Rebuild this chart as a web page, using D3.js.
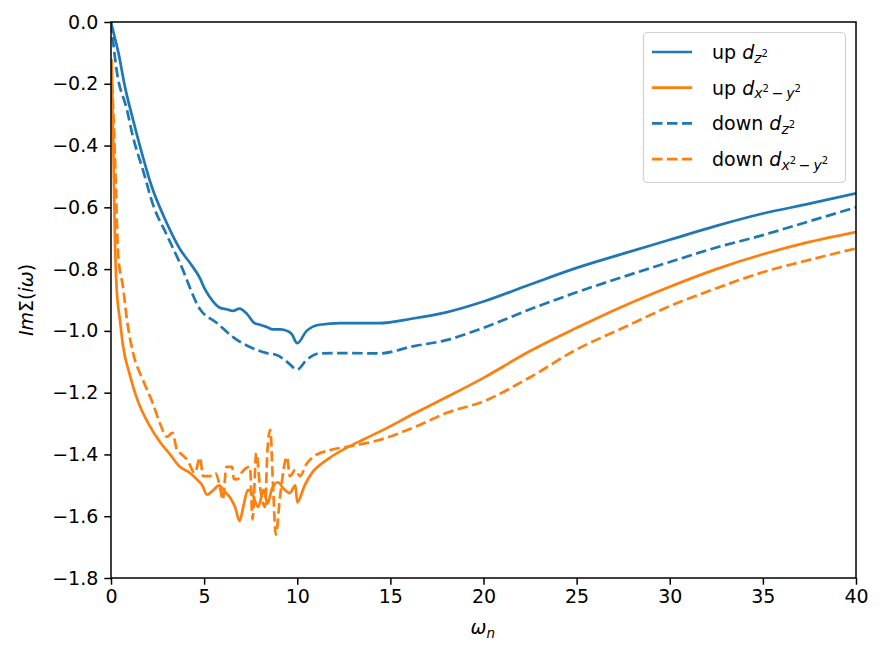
<!DOCTYPE html>
<html>
<head>
<meta charset="utf-8">
<script src="https://cdn.jsdelivr.net/npm/d3@7"></script>
<style>
  body { margin: 0; background: #fff; }
  text { font-family: "DejaVu Sans", sans-serif; }
</style>
</head>
<body>
<script>
// data: omega_n and Im Sigma(i omega)
var upZ2W = [0, 0.1, 0.4, 0.75, 1.2, 1.66, 2.2, 2.8, 3.3, 3.7, 4.3, 4.78, 5.0, 5.3, 5.85, 6.2, 6.55, 6.9, 7.3, 7.7, 8.0, 8.35, 8.7, 9.1, 9.45, 9.7, 10, 10.5, 11.2, 12.3, 14.4, 16.2, 18, 20, 22.5, 25, 27.5, 30, 32.5, 35, 37.5, 40];
var upZ2 = [0, -0.025, -0.10, -0.21, -0.32, -0.425, -0.535, -0.625, -0.69, -0.735, -0.785, -0.83, -0.86, -0.89, -0.925, -0.93, -0.935, -0.928, -0.945, -0.975, -0.98, -0.987, -0.995, -0.995, -1.0, -1.01, -1.04, -1.0, -0.98, -0.975, -0.975, -0.96, -0.94, -0.905, -0.85, -0.796, -0.75, -0.705, -0.66, -0.62, -0.588, -0.555];

var upX2W = [0.03, 0.1, 0.16, 0.21, 0.3, 0.48, 0.65, 1.0, 1.4, 1.56, 2.1, 2.63, 3.17, 3.7, 4.24, 4.6, 4.9, 5.15, 5.5, 5.8, 6.1, 6.4, 6.66, 6.9, 7.1, 7.35, 7.6, 7.9, 8.2, 8.4, 8.65, 8.97, 9.25, 9.6, 9.9, 10.0, 10.4, 10.85, 11.3, 11.76, 12.67, 13.5, 14.4, 16.2, 18, 20, 22.5, 25, 27.5, 30, 32.5, 35, 37.5, 40];
var upX2 = [-0.12, -0.32, -0.53, -0.70, -0.86, -0.965, -1.05, -1.14, -1.22, -1.245, -1.31, -1.36, -1.40, -1.44, -1.46, -1.48, -1.50, -1.53, -1.515, -1.50, -1.52, -1.54, -1.57, -1.615, -1.57, -1.515, -1.53, -1.57, -1.515, -1.56, -1.51, -1.49, -1.51, -1.525, -1.50, -1.555, -1.50, -1.455, -1.43, -1.41, -1.378, -1.353, -1.327, -1.27, -1.215, -1.152, -1.065, -0.99, -0.92, -0.857, -0.80, -0.752, -0.712, -0.68];

var downZ2W = [0, 0.3, 0.86, 1.18, 1.72, 2.25, 3.0, 3.7, 4.78, 5.7, 6.55, 7.46, 8.37, 8.9, 9.45, 10, 10.5, 11.2, 12.7, 14.4, 16.2, 18, 20, 22.5, 25, 27.5, 30, 32.5, 35, 37.5, 40];
var downZ2 = [0, -0.155, -0.285, -0.372, -0.48, -0.59, -0.69, -0.78, -0.93, -0.975, -1.02, -1.052, -1.072, -1.078, -1.10, -1.125, -1.094, -1.073, -1.072, -1.073, -1.05, -1.03, -0.99, -0.93, -0.875, -0.825, -0.777, -0.73, -0.69, -0.645, -0.60];

var downX2W = [0.03, 0.21, 0.38, 0.65, 0.86, 1.18, 1.72, 2.25, 2.63, 3.0, 3.3, 3.54, 3.8, 4.1, 4.5, 4.78, 4.94, 5.3, 5.6, 5.85, 6.0, 6.2, 6.5, 6.6, 6.8, 7.0, 7.46, 7.6, 7.8, 8.0, 8.27, 8.4, 8.55, 8.7, 8.85, 9.07, 9.45, 9.6, 9.9, 10.15, 10.5, 10.85, 11.76, 12.67, 13.5, 14.4, 16.2, 18, 20, 22.5, 25, 27.5, 30, 32.5, 35, 37.5, 40];
var downX2 = [-0.15, -0.43, -0.75, -0.86, -0.965, -1.07, -1.16, -1.235, -1.30, -1.343, -1.33, -1.385, -1.40, -1.418, -1.46, -1.41, -1.47, -1.47, -1.46, -1.505, -1.547, -1.44, -1.44, -1.48, -1.48, -1.46, -1.44, -1.61, -1.395, -1.505, -1.57, -1.386, -1.32, -1.50, -1.66, -1.54, -1.408, -1.47, -1.45, -1.47, -1.43, -1.408, -1.386, -1.375, -1.366, -1.353, -1.314, -1.266, -1.228, -1.15, -1.06, -0.99, -0.92, -0.862, -0.81, -0.77, -0.733];

var xTicks = [0, 5, 10, 15, 20, 25, 30, 35, 40];
var yTicks = [0, -0.2, -0.4, -0.6, -0.8, -1.0, -1.2, -1.4, -1.6, -1.8];

var width = 883;
var height = 655;
var padL = 111, padR = 856, padT = 22, padB = 578;
var fs = 19;

var svg = d3.select('body').append('svg')
  .attr('width', width)
  .attr('height', height);

var xScale = d3.scaleLinear().domain([0, 40]).range([padL, padR]);
var yScale = d3.scaleLinear().domain([-1.8, 0]).range([padB, padT]);

var series = [
  { w: upZ2W, v: upZ2, color: '#1f77b4', dash: null },
  { w: upX2W, v: upX2, color: '#ff7f0e', dash: null },
  { w: downZ2W, v: downZ2, color: '#1f77b4', dash: '10.5,4.5' },
  { w: downX2W, v: downX2, color: '#ff7f0e', dash: '10.5,4.5' }
];

svg.append('clipPath').attr('id', 'clip')
  .append('rect')
  .attr('x', padL).attr('y', padT)
  .attr('width', padR - padL).attr('height', padB - padT);

var line = d3.line()
  .x(d => xScale(d[0]))
  .y(d => yScale(d[1]))
  .curve(d3.curveMonotoneX);

series.forEach(s => {
  var pts = s.w.map((w, i) => [w, s.v[i]]);
  svg.append('path')
    .attr('clip-path', 'url(#clip)')
    .attr('d', line(pts))
    .attr('fill', 'none')
    .attr('stroke', s.color)
    .attr('stroke-width', 2.7)
    .attr('stroke-linejoin', 'round')
    .attr('stroke-dasharray', s.dash);
});

// axes
var fmt = d => d3.format('.1f')(d).replace('-', '\u2212');

var xAxis = svg.append('g')
  .attr('transform', 'translate(0,' + padB + ')')
  .call(d3.axisBottom(xScale).tickValues(xTicks).tickSize(6.7).tickPadding(5).tickFormat(d3.format('d')));

var yAxis = svg.append('g')
  .attr('transform', 'translate(' + padL + ',0)')
  .call(d3.axisLeft(yScale).tickValues(yTicks).tickSize(6.7).tickPadding(6).tickFormat(fmt));

[xAxis, yAxis].forEach(g => {
  g.selectAll('text').attr('font-size', fs).attr('fill', '#000').attr('font-family', 'DejaVu Sans');
  g.selectAll('line').attr('stroke', '#000').attr('stroke-width', 1.5);
  g.select('.domain').remove();
});

svg.append('rect')
  .attr('x', padL).attr('y', padT)
  .attr('width', padR - padL).attr('height', padB - padT)
  .attr('fill', 'none')
  .attr('stroke', '#000')
  .attr('stroke-width', 1.5);

// axis labels
var xl = svg.append('text')
  .attr('x', (padL + padR) / 2 - 13)
  .attr('y', 634)
  .attr('font-size', fs);
xl.append('tspan').attr('font-style', 'italic').text('\u03c9');
xl.append('tspan').attr('font-style', 'italic').attr('font-size', 13.5).attr('dy', 4).text('n');

var yl = svg.append('text')
  .attr('transform', 'translate(33,' + ((padT + padB) / 2) + ') rotate(-90)')
  .attr('text-anchor', 'middle')
  .attr('font-size', fs);
yl.append('tspan').attr('font-style', 'italic').text('Im');
yl.append('tspan').text('\u03a3(');
yl.append('tspan').attr('font-style', 'italic').text('i\u03c9');
yl.append('tspan').text(')');

// legend
var legendNames = ['up ', 'up ', 'down ', 'down '];
var legendSubs = ['z2', 'x2y2', 'z2', 'x2y2'];

var lg = svg.append('g');
lg.append('rect')
  .attr('x', 643.5).attr('y', 32.5)
  .attr('width', 202).attr('height', 150)
  .attr('rx', 4)
  .attr('fill', '#fff').attr('fill-opacity', 0.8)
  .attr('stroke', '#d0d0d0').attr('stroke-width', 1.2);

series.forEach((s, i) => {
  var y = 52 + i * 35.7;
  lg.append('line')
    .attr('x1', 652).attr('x2', 692)
    .attr('y1', y).attr('y2', y)
    .attr('stroke', s.color).attr('stroke-width', 2.7)
    .attr('stroke-dasharray', s.dash);
  var t = lg.append('text')
    .attr('x', 712).attr('y', y + 7)
    .attr('font-size', fs);
  t.append('tspan').text(legendNames[i]);
  t.append('tspan').attr('font-style', 'italic').text('d');
  if (legendSubs[i] === 'z2') {
    t.append('tspan').attr('font-style', 'italic').attr('font-size', 14).attr('dy', 3.5).text('z');
    t.append('tspan').attr('font-size', 10).attr('dy', -6).text('2');
  } else {
    t.append('tspan').attr('font-style', 'italic').attr('font-size', 14).attr('dy', 3.5).text('x');
    t.append('tspan').attr('font-size', 10).attr('dy', -6).text('2');
    t.append('tspan').attr('font-size', 14).attr('dy', 6).text('\u2009\u2212\u2009');
    t.append('tspan').attr('font-style', 'italic').attr('font-size', 14).text('y');
    t.append('tspan').attr('font-size', 10).attr('dy', -6).text('2');
  }
});
</script>
</body>
</html>
